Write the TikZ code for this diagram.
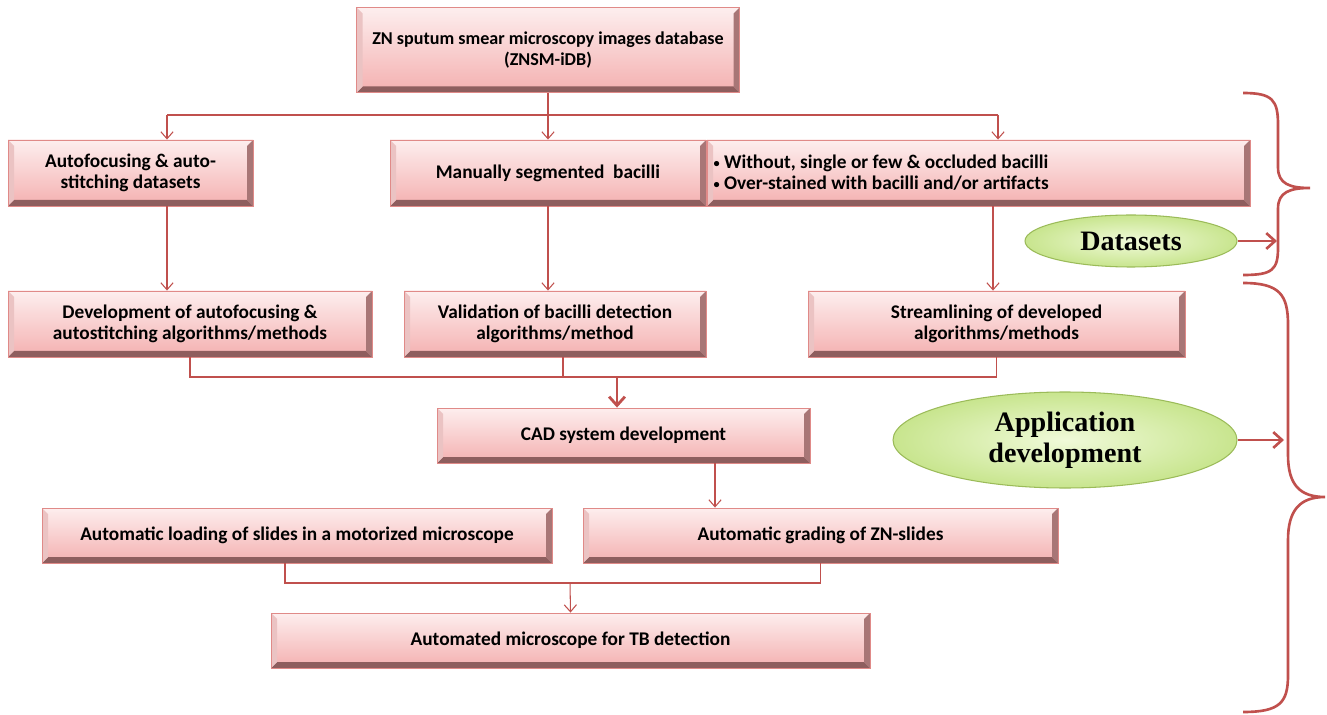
\documentclass[tikz,border=0pt]{standalone}
\usepackage{fontspec}
\setmainfont{Carlito}
\newfontfamily\capfont{Liberation Serif}
\usetikzlibrary{arrows.meta}
\usetikzlibrary{shapes.geometric, positioning}

\definecolor{boxtop}{HTML}{FDEEEE}
\definecolor{boxbot}{HTML}{F4B0B0}
\definecolor{boxedge}{HTML}{E08A88}
\definecolor{bevbot}{HTML}{8E5E5E}
\definecolor{bevright}{HTML}{A87676}
\definecolor{bevleft}{HTML}{EBC3C3}
\definecolor{linkred}{HTML}{C0504D}
\definecolor{ovaltop}{HTML}{F0FAD9}
\definecolor{ovalbot}{HTML}{C8E58E}
\definecolor{ovaledge}{HTML}{9BBB59}

\newcommand{\bevw}{0.12cm}
\newcommand{\smallbul}{{\fontsize{7}{7}\selectfont\raisebox{0.15ex}{•}}}

\tikzset{
    % bevelled pink box
    flowbox/.style={
        rectangle, draw=boxedge, line width=0.5pt,
        top color=boxtop, bottom color=boxbot,
        align=center, font=\bfseries\fontsize{11}{12}\selectfont,
        minimum height=1.32cm, inner sep=3pt,
        path picture={
            \fill[bevbot] (path picture bounding box.south west) -- (path picture bounding box.south east)
                -- ([xshift=-\bevw,yshift=\bevw]path picture bounding box.south east)
                -- ([xshift=\bevw,yshift=\bevw]path picture bounding box.south west) -- cycle;
            \fill[bevright] (path picture bounding box.south east) -- (path picture bounding box.north east)
                -- ([xshift=-\bevw,yshift=-\bevw]path picture bounding box.north east)
                -- ([xshift=-\bevw,yshift=\bevw]path picture bounding box.south east) -- cycle;
            \fill[bevleft] (path picture bounding box.south west) -- (path picture bounding box.north west)
                -- ([xshift=\bevw,yshift=-\bevw]path picture bounding box.north west)
                -- ([xshift=\bevw,yshift=\bevw]path picture bounding box.south west) -- cycle;
        }
    },
    % green label oval
    oval/.style={
        ellipse, draw=ovaledge, line width=0.6pt,
        inner color=ovaltop, outer color=ovalbot,
        align=center, font=\capfont\bfseries\fontsize{16}{17.5}\selectfont, inner sep=0pt
    },
    link/.style={draw=linkred, line width=0.6pt},
    brace/.style={draw=linkred, line width=1.5pt},
}

\begin{document}
\begin{tikzpicture}[>={Straight Barb[length=4pt,width=7pt]}]
    \useasboundingbox (0,0) rectangle (26.54,-14.30);

    % Database
    \node[flowbox, minimum width=7.66cm, minimum height=1.7cm, font=\bfseries\fontsize{10.3}{11.8}\selectfont] (db) at (10.96,-1.0)
        {ZN sputum smear microscopy images database\\(ZNSM-iDB)};

    % Datasets row
    \node[flowbox, minimum width=4.9cm] (afs) at (2.61,-3.46) {Autofocusing \& auto-\\stitching datasets};
    \node[flowbox, minimum width=6.32cm] (seg) at (10.96,-3.46) {Manually segmented\ \ bacilli};
    \node[flowbox, minimum width=10.86cm, text width=10.6cm, align=flush left] (sets) at (19.57,-3.46)
        {\smallbul\ Without, single or few \& occluded bacilli\\\smallbul\ Over-stained with bacilli and/or artifacts};

    % Methods row
    \node[flowbox, minimum width=7.28cm] (dev) at (3.8,-6.48) {Development of autofocusing \&\\autostitching algorithms/methods};
    \node[flowbox, minimum width=6.04cm] (val) at (11.1,-6.48) {Validation of bacilli detection\\algorithms/method};
    \node[flowbox, minimum width=7.54cm] (stream) at (19.93,-6.48) {Streamlining of developed\\algorithms/methods};

    % CAD and applications
    \node[flowbox, minimum width=7.46cm, minimum height=1.1cm] (cad) at (12.47,-8.71) {CAD system development};
    \node[flowbox, minimum width=10.2cm, minimum height=1.1cm] (load) at (5.94,-10.71) {Automatic loading of slides in a motorized microscope};
    \node[flowbox, minimum width=9.5cm, minimum height=1.1cm] (grade) at (16.41,-10.71) {Automatic grading of ZN-slides};
    \node[flowbox, minimum width=11.98cm, minimum height=1.1cm] (micro) at (11.41,-12.81) {Automated microscope for TB detection};

    % Labels
    \node[oval, minimum width=4.24cm, minimum height=1.04cm] (dsoval) at (22.62,-4.82) {Datasets};
    \node[oval, minimum width=6.88cm, minimum height=1.92cm] (apoval) at (21.3,-8.8) {Application\\development};

    % Connectors
    \coordinate (split) at (10.96,-2.3);
    \draw[link] (db.south) -- (split);
    \draw[link] ([xshift=0.73cm]afs.north |- split) -- ([xshift=0.39cm]sets.north |- split);
    \draw[link,->] ([xshift=0.73cm]afs.north |- split) -- ([xshift=0.73cm]afs.north);
    \draw[link,->] (split) -- (seg.north);
    \draw[link,->] ([xshift=0.39cm]sets.north |- split) -- ([xshift=0.39cm]sets.north);

    \draw[link,->] ([xshift=0.73cm]afs.south) -- ([xshift=0.73cm]afs.south |- dev.north);
    \draw[link,->] (seg.south) -- (seg.south |- val.north);
    \draw[link,->] ([xshift=0.29cm]sets.south) -- ([xshift=0.29cm]sets.south |- stream.north);

    \coordinate (merge) at (12.34,-7.54);
    \draw[link] (dev.south) |- (merge) -| (stream.south);
    \draw[link] ([xshift=0.16cm]val.south) -- ([xshift=0.16cm]val.south |- merge);
    \draw[draw=linkred, line width=1.6pt, -{Straight Barb[length=5pt,width=9pt]}] (merge) -- (merge |- cad.north);

    \draw[link,->] ([xshift=1.83cm]cad.south) -- ([xshift=1.83cm]cad.south |- grade.north);

    \coordinate (join) at (11.4,-11.66);
    \draw[link] ([xshift=-0.24cm]load.south) |- (join) -| (grade.south);
    \draw[link,->] (join) -- (micro.north);

    % Braces
    \draw[brace] (24.86,-1.86) .. controls (25.45,-1.86) and (25.56,-2.0) .. (25.56,-2.5)
        -- (25.56,-3.35) .. controls (25.56,-3.68) and (25.8,-3.76) .. (26.2,-3.76)
        .. controls (25.8,-3.76) and (25.56,-3.84) .. (25.56,-4.17)
        -- (25.56,-4.95) .. controls (25.56,-5.4) and (25.45,-5.5) .. (24.86,-5.5);
    \draw[brace] (24.86,-5.66) .. controls (25.6,-5.66) and (25.76,-5.9) .. (25.76,-6.5)
        -- (25.76,-9.1) .. controls (25.76,-9.7) and (26.0,-9.94) .. (26.5,-9.94)
        .. controls (26.0,-9.94) and (25.76,-10.2) .. (25.76,-10.8)
        -- (25.76,-13.5) .. controls (25.76,-14.05) and (25.6,-14.24) .. (24.86,-14.24);

    \coordinate (dstip) at (25.54,-4.82);
    \coordinate (aptip) at (25.68,-8.8);
    \draw[brace, -{Straight Barb[length=5pt,width=9pt]}] (dsoval.east) -- (dstip);
    \draw[brace, -{Straight Barb[length=5pt,width=9pt]}] (apoval.east) -- (aptip);

\end{tikzpicture}
\end{document}
